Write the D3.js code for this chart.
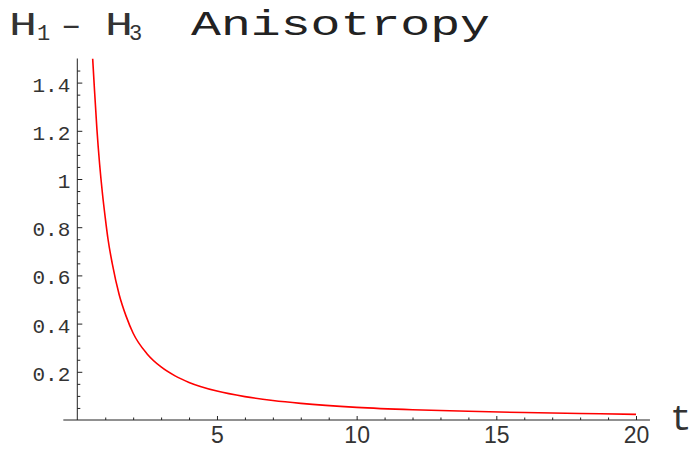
<!DOCTYPE html>
<html>
<head>
<meta charset="utf-8">
<script src="https://cdn.jsdelivr.net/npm/d3@7"></script>
<style>
  html, body { margin: 0; padding: 0; background: #fff; }
  svg { display: block; }
</style>
</head>
<body>
<svg id="chart" width="695" height="455"></svg>
<script>
// Anisotropy H1 - H3 as a function of t
const tValues = [0.55, 0.6, 0.7, 0.8, 0.9, 1.0, 1.1, 1.25, 1.5, 1.75, 2.0, 2.5, 3.0, 3.5, 4.0, 5.0, 6.0, 7.0, 8.0, 10.0, 12.0, 14.0, 16.0, 18.0, 20.0];
const anisotropy = [1.50, 1.40, 1.21, 1.06, 0.94, 0.84, 0.75, 0.65, 0.52, 0.43, 0.36, 0.274, 0.22, 0.183, 0.156, 0.12, 0.097, 0.081, 0.069, 0.0525, 0.0425, 0.036, 0.031, 0.027, 0.0235];

const xMajorTicks = [5, 10, 15, 20];
const xMinorTicks = d3.range(1, 21).filter(v => v % 5 !== 0);
const yMajorTicks = [0.2, 0.4, 0.6, 0.8, 1.0, 1.2, 1.4];
const yMinorTicks = d3.range(1, 30).map(i => +(i * 0.05).toFixed(2)).filter(v => Math.abs(v * 5 - Math.round(v * 5)) > 1e-6);
const yTickLabels = ["0.2", "0.4", "0.6", "0.8", "1", "1.2", "1.4"];

const svg = d3.select("#chart");

const x = d3.scaleLinear().domain([0, 20]).range([77.3, 636]);
const y = d3.scaleLinear().domain([0, 1.5]).range([420, 58.5]);

const axisColor = "#222";
const textColor = "#333";
const monoFont = "'Courier New', 'Liberation Mono', monospace";
const sansFont = "'Liberation Sans', Arial, sans-serif";

// clip region for the curve
svg.append("defs").append("clipPath").attr("id", "plotClip")
  .append("rect")
  .attr("x", x(0)).attr("y", y(1.5))
  .attr("width", x(20.5) - x(0)).attr("height", y(0) - y(1.5));

// horizontal axis: minor and major ticks pointing up
const xAxisG = svg.append("g").attr("transform", `translate(0,${y(0)})`);
xAxisG.append("g")
  .call(d3.axisBottom(x).tickValues(xMinorTicks).tickSize(-2.5).tickFormat(""))
  .call(g => g.select(".domain").remove());
xAxisG.append("g")
  .call(d3.axisBottom(x).tickValues(xMajorTicks).tickSize(-4).tickPadding(10).tickFormat(d3.format("d")))
  .call(g => g.select(".domain").remove());
xAxisG.selectAll(".tick line").attr("stroke", axisColor).attr("stroke-width", 1);
xAxisG.selectAll(".tick text")
  .attr("font-family", sansFont).attr("font-size", 23)
  .attr("fill", textColor).attr("y", 7).attr("dy", "0.71em");
xAxisG.append("line")
  .attr("x1", x(-0.5)).attr("x2", x(20.5))
  .attr("y1", 0).attr("y2", 0)
  .attr("stroke", axisColor).attr("stroke-width", 1);

// vertical axis: ticks pointing right
const yAxisG = svg.append("g").attr("transform", `translate(${x(0)},0)`);
yAxisG.append("g")
  .call(d3.axisLeft(y).tickValues(yMinorTicks).tickSize(-3).tickFormat(""))
  .call(g => g.select(".domain").remove());
yAxisG.append("g")
  .call(d3.axisLeft(y).tickValues(yMajorTicks).tickSize(-5).tickFormat((d, i) => yTickLabels[i]))
  .call(g => g.select(".domain").remove());
yAxisG.selectAll(".tick line").attr("stroke", axisColor).attr("stroke-width", 1);
yAxisG.selectAll(".tick text")
  .attr("font-family", monoFont).attr("font-size", 21)
  .attr("fill", textColor).attr("x", -7).attr("dy", "0.40em");
yAxisG.append("line")
  .attr("x1", 0).attr("x2", 0)
  .attr("y1", y(0)).attr("y2", y(1.5))
  .attr("stroke", axisColor).attr("stroke-width", 1);

// the curve
const line = d3.line()
  .x((d, i) => x(tValues[i]))
  .y(d => y(d))
  .curve(d3.curveMonotoneX);

svg.append("path")
  .datum(anisotropy)
  .attr("clip-path", "url(#plotClip)")
  .attr("fill", "none")
  .attr("stroke", "#ff0000")
  .attr("stroke-width", 1.6)
  .attr("d", line);

// axis label t
svg.append("text")
  .attr("x", 670).attr("y", 430)
  .attr("font-family", monoFont).attr("font-size", 36)
  .attr("fill", textColor)
  .text("t");

// vertical-axis label H1 - H3 with subscripts
const lbl = svg.append("g").attr("fill", textColor).attr("font-family", monoFont);
lbl.append("text").attr("x", 9).attr("y", 35).attr("font-size", 34)
  .attr("textLength", 28).attr("lengthAdjust", "spacingAndGlyphs").text("H");
lbl.append("text").attr("x", 37).attr("y", 40).attr("font-size", 22).text("1");
lbl.append("text").attr("x", 61).attr("y", 35).attr("font-size", 34).text("–");
lbl.append("text").attr("x", 105).attr("y", 35).attr("font-size", 34)
  .attr("textLength", 28).attr("lengthAdjust", "spacingAndGlyphs").text("H");
lbl.append("text").attr("x", 129).attr("y", 40).attr("font-size", 22).text("3");

// title
svg.append("text")
  .attr("x", 191).attr("y", 35)
  .attr("font-family", monoFont).attr("font-size", 35)
  .attr("fill", "#222")
  .attr("textLength", 299).attr("lengthAdjust", "spacingAndGlyphs")
  .text("Anisotropy");
</script>
</body>
</html>
